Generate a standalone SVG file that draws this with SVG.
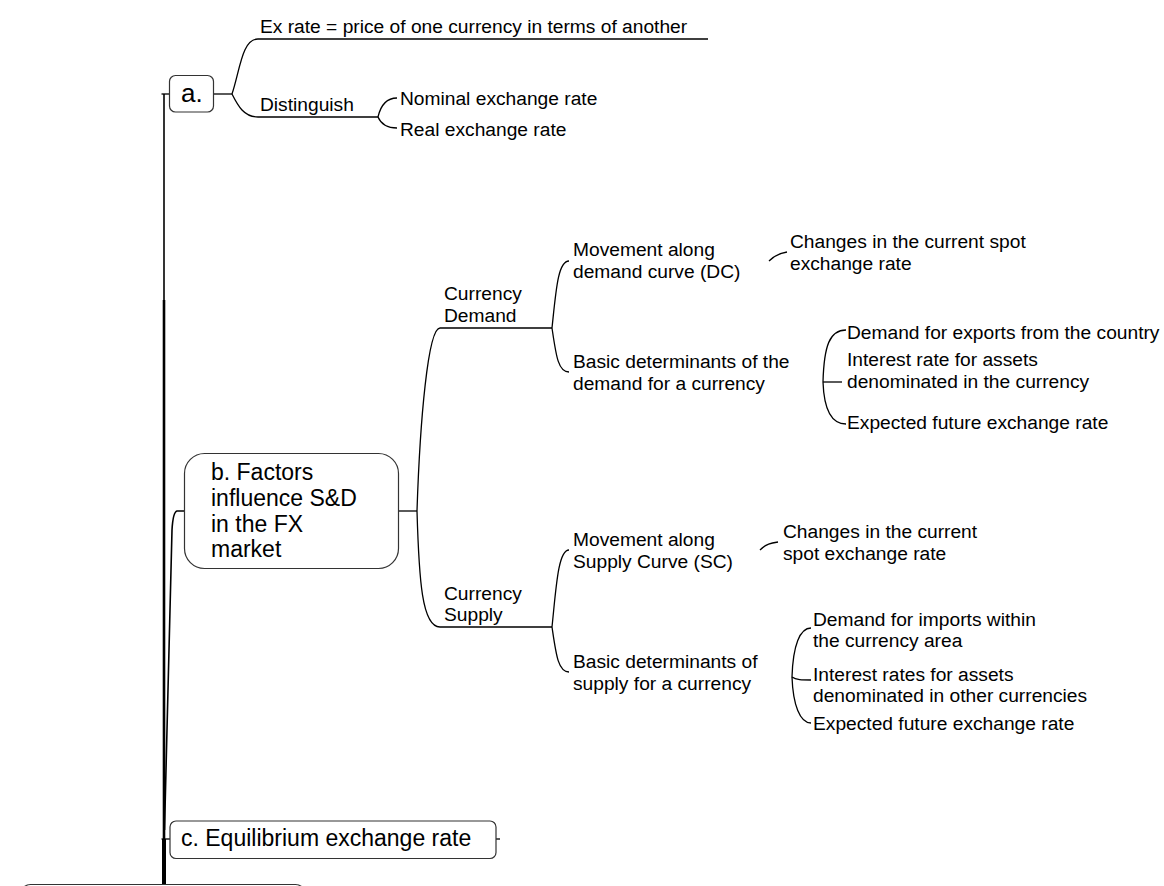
<svg xmlns="http://www.w3.org/2000/svg" width="1164" height="886" viewBox="0 0 1164 886">
<style>
.t{font-family:"Liberation Sans",Arial,sans-serif;font-size:19.2px;fill:#000}
.n{font-family:"Liberation Sans",Arial,sans-serif;font-size:23px;fill:#000}
.box{fill:#fff;stroke:#333;stroke-width:1.2}
.c{fill:none;stroke:#000;stroke-width:1.3}
</style>
<rect width="1164" height="886" fill="#fff"/>

<!-- branch lines -->
<g id="connectors" class="c">
  <!-- trunk from the central topic -->
  <path d="M164,886 V94" stroke-width="1.6"/>
  <path d="M164,886 V300" stroke-width="2.6"/>
  <path d="M164,886 V839" stroke-width="4"/>
  <path d="M161.5,94 H170"/>
  <path d="M161.5,839 H170"/>
  <path d="M496,839 H500"/>
  <path d="M184,511 H177 Q173,512 172,530 C170,580 167,700 164.5,830" stroke-width="1.6"/>
  <!-- a. -->
  <path d="M214,94 H232"/>
  <path d="M232,94 C240,70 242,39 258,39 H708"/>
  <path d="M232,94 C238,106 244,117 258,117 H378"/>
  <path d="M378,117 C381,104 388,98 397,98"/>
  <path d="M378,117 C381,124 388,128 397,128"/>
  <!-- b. -->
  <path d="M398,511 H417"/>
  <path d="M417,511 C420,420 428,328 440,328 H552"/>
  <path d="M417,511 C419,580 422,627 440,627 H552"/>
  <path d="M552,328 C556,290 558,261 569,261"/>
  <path d="M552,328 C556,355 558,372 569,372"/>
  <path d="M552,627 C556,589 558,550 569,550"/>
  <path d="M552,627 C556,654 558,672 569,672"/>
  <path d="M769,261 C775,255 780,253 787,252"/>
  <path d="M760,550 C766,544 771,543 778,542"/>
  <path d="M823,382 C824,345 830,330 846,330"/>
  <path d="M823,382 C824,410 832,424 846,424"/>
  <path d="M823,382 H842"/>
  <path d="M792,677 C793,645 800,628 811,628"/>
  <path d="M792,677 C793,705 800,723 811,723"/>
  <path d="M792,677 C796,680 802,680 811,680"/>
</g>

<!-- central topic (below the visible area) -->
<g id="root"><rect class="box" x="20.5" y="884.5" width="285" height="50" rx="10"/></g>

<!-- main topics -->
<g id="topic-a">
  <rect class="box" x="169.5" y="75.5" width="44" height="36.5" rx="6"/>
  <text class="n" x="181" y="101.5" style="font-size:26px">a.</text>
</g>
<g id="topic-b">
  <rect class="box" x="184.5" y="453.5" width="214" height="115" rx="20"/>
  <text class="n"><tspan x="211" y="480">b. Factors</tspan><tspan x="211" y="505.8">influence S&amp;D</tspan><tspan x="211" y="531.6">in the FX</tspan><tspan x="211" y="557.4">market</tspan></text>
</g>
<g id="topic-c">
  <rect class="box" x="170" y="821" width="326" height="37.5" rx="6"/>
  <text class="n" x="181" y="846">c. Equilibrium exchange rate</text>
</g>

<!-- subtopics of a. -->
<g id="ex-rate"><text class="t" x="260" y="33">Ex rate = price of one currency in terms of another</text></g>
<g id="distinguish"><text class="t" x="260" y="110.5">Distinguish</text></g>
<g id="nominal"><text class="t" x="400" y="105">Nominal exchange rate</text></g>
<g id="real"><text class="t" x="400" y="136">Real exchange rate</text></g>

<!-- subtopics of b. -->
<g id="currency-demand"><text class="t"><tspan x="444" y="300">Currency</tspan><tspan x="444" y="322">Demand</tspan></text></g>
<g id="currency-supply"><text class="t"><tspan x="444" y="599.5">Currency</tspan><tspan x="444" y="621">Supply</tspan></text></g>

<g id="demand-movement"><text class="t"><tspan x="573" y="256">Movement along</tspan><tspan x="573" y="278">demand curve (DC)</tspan></text></g>
<g id="demand-basic"><text class="t"><tspan x="573" y="367.5">Basic determinants of the</tspan><tspan x="573" y="389.5">demand for a currency</tspan></text></g>
<g id="demand-spot"><text class="t"><tspan x="790" y="248">Changes in the current spot</tspan><tspan x="790" y="270">exchange rate</tspan></text></g>
<g id="demand-exports"><text class="t" x="847" y="339">Demand for exports from the country</text></g>
<g id="demand-interest"><text class="t"><tspan x="847" y="366">Interest rate for assets</tspan><tspan x="847" y="388">denominated in the currency</tspan></text></g>
<g id="demand-expected"><text class="t" x="847" y="429">Expected future exchange rate</text></g>

<g id="supply-movement"><text class="t"><tspan x="573" y="546">Movement along</tspan><tspan x="573" y="568">Supply Curve (SC)</tspan></text></g>
<g id="supply-basic"><text class="t"><tspan x="573" y="667.5">Basic determinants of</tspan><tspan x="573" y="689.5">supply for a currency</tspan></text></g>
<g id="supply-spot"><text class="t"><tspan x="783" y="538">Changes in the current</tspan><tspan x="783" y="560">spot exchange rate</tspan></text></g>
<g id="supply-imports"><text class="t"><tspan x="813" y="626">Demand for imports within</tspan><tspan x="813" y="647">the currency area</tspan></text></g>
<g id="supply-interest"><text class="t"><tspan x="813" y="681">Interest rates for assets</tspan><tspan x="813" y="702">denominated in other currencies</tspan></text></g>
<g id="supply-expected"><text class="t" x="813" y="729.5">Expected future exchange rate</text></g>
</svg>
